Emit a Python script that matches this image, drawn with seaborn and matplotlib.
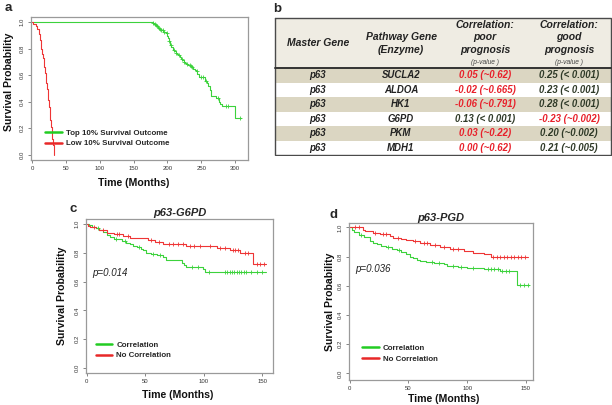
import numpy as np
import pandas as pd
import seaborn as sns
import matplotlib.pyplot as plt
from matplotlib.lines import Line2D
from matplotlib.patches import Rectangle

# ---- panel a: top / low 10% survival outcome ----
a_top_t = [0, 178, 180, 182, 184, 186, 188, 190, 192, 194, 196, 198, 200, 201, 202, 204, 206, 208, 210,
           212, 214, 216, 218, 220, 222, 224, 226, 228, 230, 232, 234, 236, 238, 240, 242, 244, 246, 250,
           253, 255, 258, 260, 263, 265, 270, 272, 276, 278, 280, 296, 298, 300, 309]
a_top_s = [1.0, 0.995, 0.99, 0.98, 0.97, 0.96, 0.95, 0.945, 0.94, 0.93, 0.925, 0.92, 0.90, 0.88, 0.86,
           0.83, 0.81, 0.79, 0.78, 0.77, 0.76, 0.75, 0.74, 0.72, 0.715, 0.70, 0.69, 0.685, 0.68, 0.675,
           0.67, 0.665, 0.65, 0.64, 0.63, 0.61, 0.59, 0.59, 0.585, 0.56, 0.54, 0.52, 0.49, 0.44, 0.44,
           0.43, 0.40, 0.38, 0.365, 0.365, 0.365, 0.28, 0.28]
a_top_cens = [179, 181, 183, 185, 187, 189, 191, 193, 195, 199, 203, 205, 209, 213, 217, 221, 225, 229,
              233, 235, 237, 243, 249, 252, 257, 274, 286, 290, 307]
a_low_t = [0, 2, 4, 6, 8, 10, 11, 12, 13, 14, 15, 16, 17, 18, 19, 20, 21, 22, 23, 24, 25, 26, 27, 28,
           29, 30, 31, 32, 33]
a_low_s = [1.0, 0.99, 0.985, 0.97, 0.95, 0.93, 0.91, 0.87, 0.83, 0.80, 0.76, 0.73, 0.70, 0.66, 0.62,
           0.58, 0.54, 0.50, 0.45, 0.41, 0.36, 0.31, 0.26, 0.21, 0.17, 0.12, 0.07, 0.03, 0.0]

# ---- panel b: table ----
master_genes = ["p63"] * 6
pathway_genes = ["SUCLA2", "ALDOA", "HK1", "G6PD", "PKM", "MDH1"]
corr_poor = ["0.05 (~0.62)", "-0.02 (~0.665)", "-0.06 (~0.791)", "0.13 (< 0.001)", "0.03 (~0.22)", "0.00 (~0.62)"]
corr_good = ["0.25 (< 0.001)", "0.23 (< 0.001)", "0.28 (< 0.001)", "-0.23 (~0.002)", "0.20 (~0.002)", "0.21 (~0.005)"]
poor_red = [True, True, True, False, True, True]
good_red = [False, False, False, True, False, False]

# ---- panel c: p63-G6PD ----
c_cor_t = [0, 2, 5, 8, 11, 14, 17, 20, 23, 30, 34, 37, 40, 43, 46, 48, 51, 55, 60, 65, 68, 80, 81, 83,
           85, 99, 101, 153]
c_cor_s = [1.0, 0.99, 0.98, 0.97, 0.96, 0.945, 0.925, 0.91, 0.895, 0.885, 0.87, 0.86, 0.85, 0.84, 0.83,
           0.82, 0.80, 0.795, 0.785, 0.77, 0.75, 0.75, 0.73, 0.715, 0.70, 0.69, 0.665, 0.665]
c_cor_cens = [10, 25, 33, 45, 57, 63, 90, 95, 104, 118, 120, 122, 124, 126, 128, 130, 132, 134, 136,
              140, 145, 150]
c_nocor_t = [0, 1, 3, 8, 11, 17, 23, 31, 37, 52, 58, 65, 85, 102, 111, 122, 131, 142, 153]
c_nocor_s = [1.0, 0.985, 0.98, 0.97, 0.96, 0.94, 0.93, 0.92, 0.905, 0.89, 0.875, 0.86, 0.85, 0.845,
             0.835, 0.82, 0.80, 0.72, 0.72]
c_nocor_cens = [6, 14, 26, 28, 35, 55, 62, 70, 74, 78, 82, 88, 92, 97, 105, 114, 118, 125, 127, 129,
                135, 138, 145, 148, 151]

# ---- panel d: p63-PGD ----
d_cor_t = [0, 2, 4, 8, 12, 17, 20, 23, 27, 31, 36, 40, 44, 48, 51, 54, 57, 60, 65, 72, 80, 83, 92, 100,
           114, 128, 142, 153]
d_cor_s = [1.0, 0.98, 0.965, 0.947, 0.936, 0.904, 0.895, 0.886, 0.875, 0.863, 0.855, 0.844, 0.83, 0.817,
           0.80, 0.789, 0.78, 0.771, 0.764, 0.755, 0.748, 0.737, 0.73, 0.725, 0.714, 0.698, 0.604, 0.604]
d_cor_cens = [10, 33, 42, 70, 76, 88, 95, 105, 118, 120, 123, 126, 130, 133, 136, 145, 148, 152]
d_nocor_t = [0, 11, 13, 20, 26, 34, 37, 44, 48, 54, 60, 68, 77, 85, 97, 105, 114, 120, 152]
d_nocor_s = [1.0, 0.985, 0.973, 0.963, 0.954, 0.943, 0.927, 0.92, 0.913, 0.904, 0.89, 0.88, 0.867,
             0.851, 0.84, 0.828, 0.817, 0.794, 0.794]
d_nocor_cens = [5, 8, 22, 28, 31, 41, 56, 63, 66, 73, 80, 88, 92, 122, 125, 128, 131, 134, 137, 140,
                143, 146, 149]

GREEN = "#3cd23c"
RED = "#ee3535"
LEG_GREEN = "#22cc22"
LEG_RED = "#e82828"
TXT = "#2f3a28"

sns.set_theme(style="white")
plt.rcParams['font.family'] = ['Liberation Sans', 'DejaVu Sans']

fig = plt.figure(figsize=(6.12, 4.05), dpi=100)


def km(ax, times, surv, cens, color):
    df = pd.DataFrame({"t": times, "s": surv})
    sns.lineplot(data=df, x="t", y="s", ax=ax, color=color, drawstyle="steps-post",
                 estimator=None, linewidth=0.8, legend=False)
    if cens:
        t = np.array(times)
        s = np.array(surv)
        idx = np.searchsorted(t, np.array(cens), side="right") - 1
        sns.scatterplot(x=cens, y=s[idx], ax=ax, marker="+", color=color, s=12,
                        linewidth=0.6, legend=False, zorder=3)


def style_axes(ax, xlim, ylim, xticks, xlabel_pos, ylabel_pos):
    ax.set_xlim(*xlim)
    ax.set_ylim(*ylim)
    ax.set_xticks(xticks)
    ax.set_yticks([0.0, 0.2, 0.4, 0.6, 0.8, 1.0])
    ax.set_yticklabels(["0.0", "0.2", "0.4", "0.6", "0.8", "1.0"], rotation=90, va="center")
    ax.tick_params(axis="both", labelsize=4.3, length=2.5, width=0.5, pad=2,
                   colors="#555555", labelcolor="#333333", bottom=True, left=True)
    for sp in ax.spines.values():
        sp.set_color("#9a9a9a")
        sp.set_linewidth(0.9)
    ax.set_xlabel("Time (Months)", fontsize=7.6, fontweight="bold", color="#111111")
    ax.set_ylabel("Survival Probability", fontsize=7.6, fontweight="bold", color="#111111")
    ax.xaxis.set_label_coords(*xlabel_pos)
    ax.yaxis.set_label_coords(*ylabel_pos)


def km_legend(ax, labels, anchor):
    handles = [Line2D([], [], color=LEG_GREEN, lw=1.8), Line2D([], [], color=LEG_RED, lw=1.8)]
    ax.legend(handles, labels, loc="upper left", bbox_to_anchor=anchor, frameon=False,
              prop={"size": 5.7, "weight": "bold"}, handlelength=2.1, handletextpad=0.5,
              labelspacing=0.35, borderaxespad=0)


# panel a
ax_a = fig.add_axes([31 / 612, 1 - 160 / 405, 217 / 612, 143 / 405])
km(ax_a, a_top_t, a_top_s, a_top_cens, GREEN)
km(ax_a, a_low_t, a_low_s, [], RED)
style_axes(ax_a, (-1.5, 319), (-0.04, 1.04), [0, 50, 100, 150, 200, 250, 300],
           (0.475, -0.125), (-0.078, 0.545))
km_legend(ax_a, ["Top 10% Survival Outcome", "Low 10% Survival Outcome"], (0.05, 0.235))

# panel b: table
ax_b = fig.add_axes([274 / 612, 1 - 156 / 405, 338 / 612, 139 / 405])
ax_b.set_xlim(274, 612)
ax_b.set_ylim(156, 17)
ax_b.axis("off")
hdr_top, hdr_bot, row_h = 18, 68, 14.5
ax_b.add_patch(Rectangle((274.5, hdr_top), 336, hdr_bot - hdr_top, facecolor="#efece3", edgecolor="none"))
for i in range(len(pathway_genes)):
    if i % 2 == 0:
        ax_b.add_patch(Rectangle((274.5, hdr_bot + i * row_h), 336, row_h, facecolor="#dbd6c2", edgecolor="none"))
bottom = hdr_bot + row_h * len(pathway_genes)
ax_b.plot([274.5, 274.5, 610.5, 610.5, 274.5], [hdr_top, bottom, bottom, hdr_top, hdr_top],
          color="#4a4a4a", lw=1.0, solid_joinstyle="miter")
ax_b.plot([274.5, 610.5], [hdr_bot, hdr_bot], color="#333333", lw=1.4)

col_x = [318, 401, 485, 569]
hfont = dict(fontsize=7.5, fontweight="bold", fontstyle="italic", color="#222222", ha="center", va="center")
ax_b.text(col_x[0], 43, "Master Gene", **hfont)
ax_b.text(col_x[1], 37, "Pathway Gene", **hfont)
ax_b.text(col_x[1], 50, "(Enzyme)", **hfont)
for cx, word in [(col_x[2], "poor"), (col_x[3], "good")]:
    ax_b.text(cx, 25, "Correlation:", **hfont)
    ax_b.text(cx, 37.5, word, **hfont)
    ax_b.text(cx, 50, "prognosis", **hfont)
    ax_b.text(cx, 62, "(p-value )", fontsize=4.8, fontstyle="italic", color="#444444", ha="center", va="center")

rfont = dict(fontsize=6.9, fontweight="bold", fontstyle="italic", ha="center", va="center")
for i in range(len(pathway_genes)):
    yc = hdr_bot + row_h * (i + 0.5)
    ax_b.text(col_x[0], yc, master_genes[i], color="#222222", **rfont)
    ax_b.text(col_x[1], yc, pathway_genes[i], color="#222222", **rfont)
    ax_b.text(col_x[2], yc, corr_poor[i], color="#e8202a" if poor_red[i] else TXT, **rfont)
    ax_b.text(col_x[3], yc, corr_good[i], color="#e8202a" if good_red[i] else TXT, **rfont)

# panel c
ax_c = fig.add_axes([86 / 612, 1 - 373 / 405, 187 / 612, 154 / 405])
km(ax_c, c_cor_t, c_cor_s, c_cor_cens, GREEN)
km(ax_c, c_nocor_t, c_nocor_s, c_nocor_cens, RED)
style_axes(ax_c, (-0.5, 159), (-0.035, 1.035), [0, 50, 100, 150], (0.49, -0.11), (-0.10, 0.5))
km_legend(ax_c, ["Correlation", "No Correlation"], (0.035, 0.225))
ax_c.text(4.5, 0.66, "p=0.014", fontsize=7, fontstyle="italic", color="#222222", va="center")
ax_c.set_title("p63-G6PD", fontsize=8, fontweight="bold", fontstyle="italic", pad=2)

# panel d
ax_d = fig.add_axes([349 / 612, 1 - 380 / 405, 184 / 612, 157 / 405])
km(ax_d, d_cor_t, d_cor_s, d_cor_cens, GREEN)
km(ax_d, d_nocor_t, d_nocor_s, d_nocor_cens, RED)
style_axes(ax_d, (-0.5, 156), (-0.045, 1.03), [0, 50, 100, 150], (0.516, -0.088), (-0.076, 0.5))
km_legend(ax_d, ["Correlation", "No Correlation"], (0.055, 0.245))
ax_d.text(5, 0.716, "p=0.036", fontsize=7, fontstyle="italic", color="#222222", va="center")
ax_d.set_title("p63-PGD", fontsize=8, fontweight="bold", fontstyle="italic", pad=1.5)

# panel letters
for lbl, x, y in [("a", 5, 8), ("b", 273, 9), ("c", 70, 209), ("d", 330, 215)]:
    fig.text(x / 612, 1 - y / 405, lbl, fontsize=9.5, fontweight="bold", ha="left", va="center")

fig.savefig("out.png", dpi=100)
